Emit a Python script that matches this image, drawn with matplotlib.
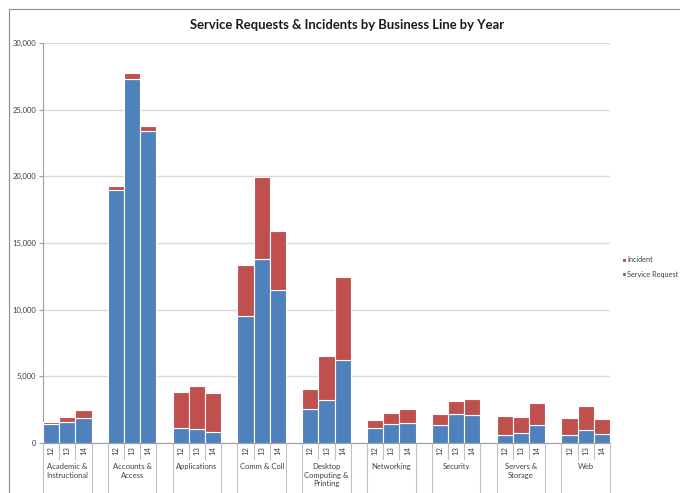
import numpy as np
import matplotlib.pyplot as plt
from matplotlib.patches import Rectangle
from matplotlib.lines import Line2D

plt.rcParams['font.family'] = ['Lato', 'DejaVu Sans']

# Business lines and years
lines = ['Academic &\nInstructional', 'Accounts &\nAccess', 'Applications', 'Comm & Coll',
         'Desktop\nComputing &\nPrinting', 'Networking', 'Security', 'Servers &\nStorage', 'Web']
years = ['12', '13', '14']

# Service requests per business line, one value per year
service_req = [
    [1400, 1600, 1900],
    [19000, 27300, 23400],
    [1150, 1050, 850],
    [9525, 13775, 11475],
    [2575, 3225, 6200],
    [1100, 1450, 1500],
    [1325, 2175, 2125],
    [600, 750, 1350],
    [625, 950, 700],
]
# Incidents per business line, one value per year
incidents = [
    [150, 325, 600],
    [250, 450, 350],
    [2675, 3250, 2875],
    [3800, 6175, 4425],
    [1450, 3300, 6275],
    [600, 800, 1075],
    [875, 950, 1200],
    [1400, 1175, 1625],
    [1275, 1850, 1075],
]

blue = '#4F81BD'
red = '#C0504D'
W, H = 680, 493

fig = plt.figure(figsize=(W / 100, H / 100), dpi=100)
ax = fig.add_axes([43 / W, 1 - 443 / H, (610 - 43) / W, 400 / H])

sr = np.array(service_req).ravel()
inc = np.array(incidents).ravel()
xpos = np.array([g * 4 + j for g in range(len(lines)) for j in range(3)])

ax.bar(xpos, sr, width=1.0, color=blue, edgecolor='white', linewidth=0.8, label='Service Request', zorder=3)
ax.bar(xpos, inc, width=1.0, bottom=sr, color=red, edgecolor='white', linewidth=0.8, label='Incident', zorder=3)

ax.set_xlim(-0.5, len(lines) * 4 - 1.5)
ax.set_ylim(0, 30000)
ax.set_yticks(np.arange(0, 30001, 5000))
ax.set_yticklabels([f'{v:,}' for v in range(0, 30001, 5000)], fontsize=5.5, color='#404040')
ax.yaxis.grid(True, color='#d9d9d9', linewidth=1.0, zorder=0)
ax.tick_params(axis='y', length=3, color='#a0a0a0', pad=2)
ax.set_xticks([])
for s in ['top', 'right']:
    ax.spines[s].set_visible(False)
ax.spines['left'].set_color('#a0a0a0')
ax.spines['bottom'].set_color('#a0a0a0')

# two-level category axis: year under each bar, business line under each group
trans = ax.get_xaxis_transform()
for g, name in enumerate(lines):
    left = g * 4 - 0.5
    for j, yr in enumerate(years):
        ax.text(g * 4 + j, -0.009, yr, transform=trans, rotation=90, ha='center', va='top',
                fontsize=5.5, color='#404040')
    for xb in (left + 1, left + 2):
        ax.add_line(Line2D([xb, xb], [0, -0.04], transform=trans, color='#c0c0c0',
                           linewidth=0.8, clip_on=False))
    for xb in (left, left + 3):
        ax.add_line(Line2D([xb, xb], [0, -0.13], transform=trans, color='#c0c0c0',
                           linewidth=0.8, clip_on=False))
    ax.text(left + 1.5, -0.051, name, transform=trans, ha='center', va='top',
            fontsize=5.5, color='#404040', linespacing=1.25)

fig.text(347 / W, 1 - 25 / H, 'Service Requests & Incidents by Business Line by Year',
         ha='center', va='center', fontsize=9.4, fontweight='bold', color='#1a1a1a')

handles, labels = ax.get_legend_handles_labels()
fig.legend(handles[::-1], labels[::-1], loc='upper left', bbox_to_anchor=(615 / W, 1 - 250 / H),
           frameon=False, fontsize=5.2, handlelength=0.6, handleheight=0.6, handletextpad=0.2,
           labelspacing=1.0, labelcolor='#404040')

# chart area border
fig.add_artist(Rectangle((9 / W, -0.1), 1.2, 1 - 9 / H + 0.1, transform=fig.transFigure,
                         fill=False, edgecolor='#8c8c8c', linewidth=0.8))

fig.savefig('out.png', dpi=100)
